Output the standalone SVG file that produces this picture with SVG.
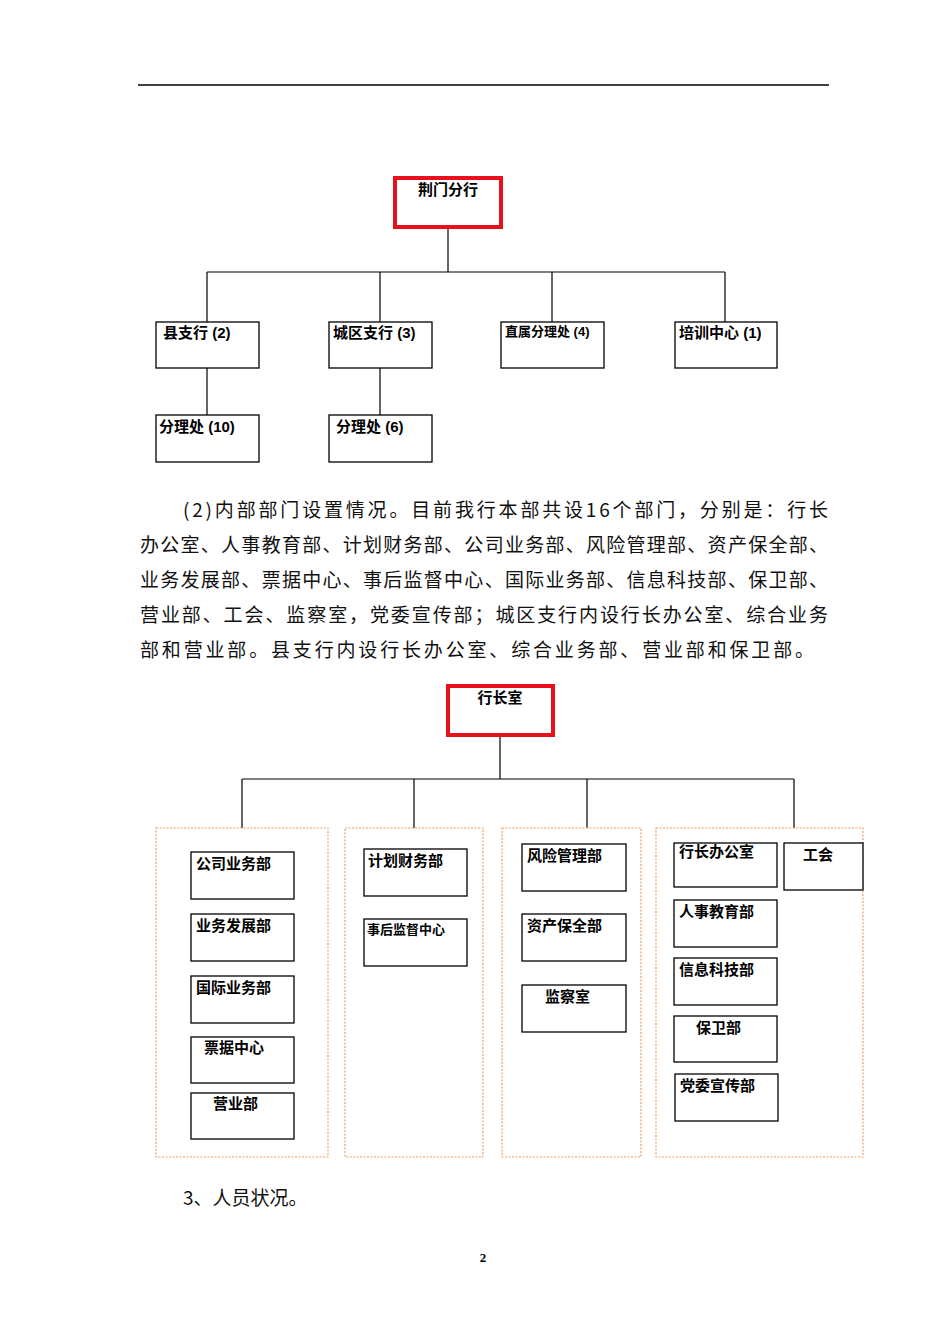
<svg xmlns="http://www.w3.org/2000/svg" width="950" height="1344" viewBox="0 0 950 1344">
<style>
.b{fill:#fff;stroke:#000;stroke-width:1.3}
.r{fill:#fff;stroke:#e8101a;stroke-width:4}
.c{fill:none;stroke:#f0a060;stroke-width:1.2;stroke-dasharray:2 1.5}
.l{fill:none;stroke:#000;stroke-width:1.2}
.t{font-family:"Liberation Sans","Noto Sans CJK SC",sans-serif;font-size:15px;font-weight:bold}
.s{font-family:"Liberation Sans","Noto Sans CJK SC",sans-serif;font-size:13px;font-weight:bold}
.p{font-family:"Noto Sans CJK SC",sans-serif;font-size:19px;fill:#111}
</style>
<rect width="950" height="1344" fill="#fff"/>
<line x1="138" y1="85" x2="829" y2="85" stroke="#000" stroke-width="1.3"/>
<g id="connectors">
<path class="l" d="M448 227V272M207 272H725M207 272V322M380 272V322M552 272V322M725 272V322M207 368V415M380 368V415"/>
<path class="l" d="M500 735V779M242 779H794M242 779V828M414 779V828M587 779V828M794 779V828"/>
</g>
<g id="n-jingmen"><rect class="r" x="395" y="178" width="106" height="49"/><text class="t" x="448" y="195" text-anchor="middle">荆门分行</text></g>
<g id="n-xian"><rect class="b" x="156" y="322" width="103" height="46"/><text class="t" x="163" y="338">县支行 (2)</text></g>
<g id="n-chengqu"><rect class="b" x="329" y="322" width="103" height="46"/><text class="t" x="333" y="338">城区支行 (3)</text></g>
<g id="n-zhishu"><rect class="b" x="501" y="322" width="103" height="46"/><text class="s" x="505" y="336">直属分理处 (4)</text></g>
<g id="n-peixun"><rect class="b" x="675" y="322" width="102" height="46"/><text class="t" x="679" y="338">培训中心 (1)</text></g>
<g id="n-fen10"><rect class="b" x="156" y="415" width="103" height="47"/><text class="t" x="159" y="432">分理处 (10)</text></g>
<g id="n-fen6"><rect class="b" x="329" y="415" width="103" height="47"/><text class="t" x="336" y="432">分理处 (6)</text></g>
<g class="p">
<text x="183" y="517" textLength="645" lengthAdjust="spacing">(2)内部部门设置情况。目前我行本部共设16个部门，分别是：行长</text>
<text x="140" y="552" textLength="688" lengthAdjust="spacing">办公室、人事教育部、计划财务部、公司业务部、风险管理部、资产保全部、</text>
<text x="140" y="587" textLength="688" lengthAdjust="spacing">业务发展部、票据中心、事后监督中心、国际业务部、信息科技部、保卫部、</text>
<text x="140" y="622" textLength="688" lengthAdjust="spacing">营业部、工会、监察室，党委宣传部；城区支行内设行长办公室、综合业务</text>
<text x="140" y="657" textLength="674" lengthAdjust="spacing">部和营业部。县支行内设行长办公室、综合业务部、营业部和保卫部。</text>
<text x="183" y="1205">3、人员状况。</text>
</g>
<g id="n-hangzhang"><rect class="r" x="448" y="686" width="105" height="49"/><text class="t" x="500" y="703" text-anchor="middle">行长室</text></g>
<g id="grp1"><rect class="c" x="156" y="828" width="172" height="329"/></g>
<g id="grp2"><rect class="c" x="345" y="828" width="138" height="329"/></g>
<g id="grp3"><rect class="c" x="502" y="828" width="139" height="329"/></g>
<g id="grp4"><rect class="c" x="656" y="828" width="207" height="329"/></g>
<g id="n1"><rect class="b" x="191" y="852" width="103" height="47"/><text class="t" x="196" y="869">公司业务部</text></g>
<g id="n2"><rect class="b" x="191" y="914" width="103" height="47"/><text class="t" x="196" y="931">业务发展部</text></g>
<g id="n3"><rect class="b" x="191" y="976" width="103" height="47"/><text class="t" x="196" y="993">国际业务部</text></g>
<g id="n4"><rect class="b" x="191" y="1037" width="103" height="46"/><text class="t" x="204" y="1053">票据中心</text></g>
<g id="n5"><rect class="b" x="191" y="1093" width="103" height="46"/><text class="t" x="213" y="1109">营业部</text></g>
<g id="n6"><rect class="b" x="364" y="849" width="103" height="47"/><text class="t" x="368" y="866">计划财务部</text></g>
<g id="n7"><rect class="b" x="364" y="919" width="103" height="47"/><text class="s" x="367" y="934">事后监督中心</text></g>
<g id="n8"><rect class="b" x="522" y="844" width="104" height="47"/><text class="t" x="527" y="861">风险管理部</text></g>
<g id="n9"><rect class="b" x="522" y="914" width="104" height="47"/><text class="t" x="527" y="931">资产保全部</text></g>
<g id="n10"><rect class="b" x="522" y="985" width="104" height="47"/><text class="t" x="545" y="1002">监察室</text></g>
<g id="n11"><rect class="b" x="674" y="843" width="103" height="44"/><text class="t" x="679" y="857">行长办公室</text></g>
<g id="n12"><rect class="b" x="784" y="843" width="79" height="47"/><text class="t" x="803" y="860">工会</text></g>
<g id="n13"><rect class="b" x="674" y="900" width="103" height="47"/><text class="t" x="679" y="917">人事教育部</text></g>
<g id="n14"><rect class="b" x="674" y="958" width="103" height="47"/><text class="t" x="679" y="975">信息科技部</text></g>
<g id="n15"><rect class="b" x="674" y="1016" width="103" height="46"/><text class="t" x="696" y="1033">保卫部</text></g>
<g id="n16"><rect class="b" x="675" y="1074" width="103" height="47"/><text class="t" x="680" y="1091">党委宣传部</text></g>
<text x="483" y="1262" font-family="Liberation Serif,serif" font-size="13" font-weight="bold" text-anchor="middle">2</text>
</svg>
